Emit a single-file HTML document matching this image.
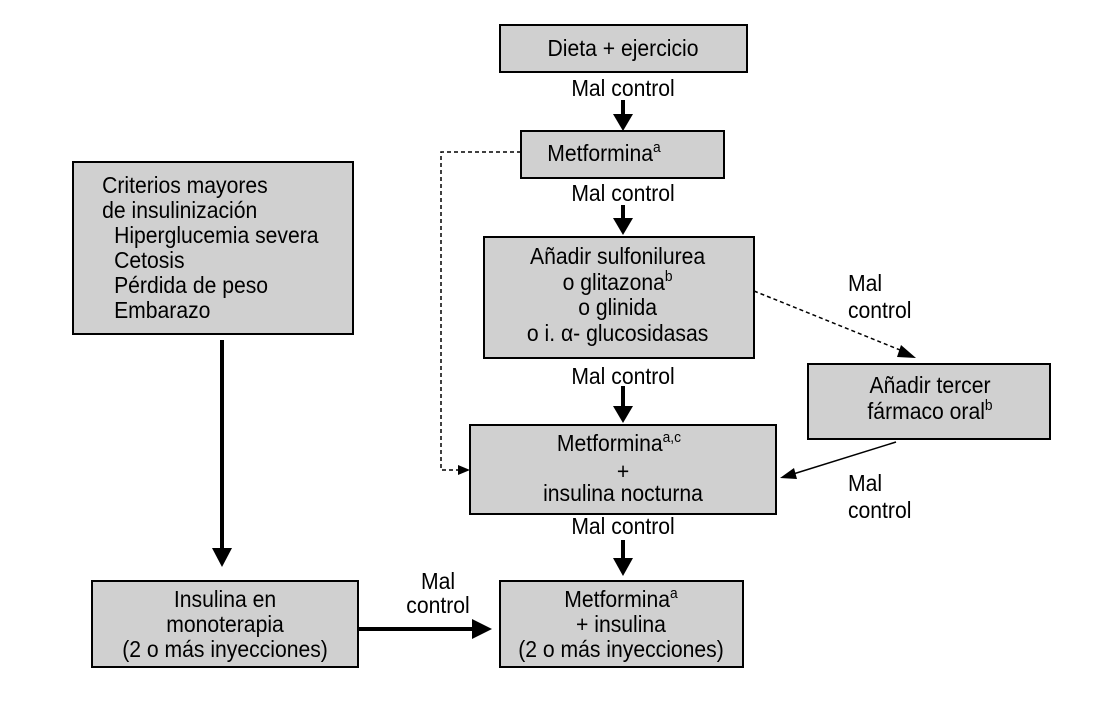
<!DOCTYPE html>
<html><head><meta charset="utf-8"><style>
body{margin:0;background:#fff;}
svg text{font-family:"Liberation Sans Narrow","Liberation Sans",sans-serif;font-size:23px;fill:#000;}
</style></head><body>
<svg width="1102" height="713" viewBox="0 0 1102 713" xmlns="http://www.w3.org/2000/svg">
<g fill="#d0d0d0" stroke="#000" stroke-width="2">
<rect x="500" y="25" width="247" height="47"/>
<rect x="521" y="131" width="203" height="47"/>
<rect x="484" y="237" width="270" height="121"/>
<rect x="470" y="425" width="306" height="89"/>
<rect x="808" y="364" width="242" height="75"/>
<rect x="73" y="162" width="280" height="172"/>
<rect x="92" y="581" width="266" height="86"/>
<rect x="500" y="581" width="243" height="86"/>
</g>
<g stroke="#000" stroke-width="4">
<line x1="623" y1="100" x2="623" y2="116"/>
<line x1="623" y1="205" x2="623" y2="220"/>
<line x1="623" y1="386" x2="623" y2="408"/>
<line x1="623" y1="540" x2="623" y2="560"/>
<line x1="222" y1="340" x2="222" y2="550"/>
<line x1="358" y1="629" x2="475" y2="629"/>
</g>
<g fill="#000">
<path d="M613,114 L633,114 L623,131 z"/>
<path d="M613,218 L633,218 L623,235 z"/>
<path d="M613,406 L633,406 L623,423 z"/>
<path d="M613,558 L633,558 L623,576 z"/>
<path d="M212,548 L232,548 L222,567 z"/>
<path d="M472,619 L472,639 L492,629 z"/>
</g>
<g fill="none" stroke="#000" stroke-width="1.5" stroke-dasharray="4,3">
<polyline points="521,152 441,152 441,470 460,470"/>
<line x1="754" y1="291" x2="905" y2="352"/>
</g>
<path d="M458,465 L470,470 L458,475 z" fill="#000"/>
<path d="M901,345 L916,358 L897,357 z" fill="#000"/>
<line x1="896" y1="442" x2="790" y2="475" stroke="#000" stroke-width="1.5"/>
<path d="M780,478 L794,468 L797,479 z" fill="#000"/>
<g transform="scale(0.92,1)">
<g text-anchor="middle">
<text x="677.2" y="56">Dieta + ejercicio</text>
<text x="677.2" y="96">Mal control</text>
<text x="656.5" y="161">Metformina<tspan font-size="15" dy="-9">a</tspan></text>
<text x="677.2" y="201">Mal control</text>
<text x="671.3" y="264">Añadir sulfonilurea</text>
<text x="671.3" y="290">o glitazona<tspan font-size="15" dy="-9">b</tspan></text>
<text x="671.3" y="315">o glinida</text>
<text x="671.3" y="341">o i. α- glucosidasas</text>
<text x="677.2" y="384">Mal control</text>
<text x="672.8" y="451">Metformina<tspan font-size="15" dy="-9">a,c</tspan></text>
<text x="677.2" y="479">+</text>
<text x="677.2" y="501">insulina nocturna</text>
<text x="677.2" y="534">Mal control</text>
<text x="1010.9" y="393">Añadir tercer</text>
<text x="1010.9" y="419">fármaco oral<tspan font-size="15" dy="-9">b</tspan></text>
<text x="244.6" y="607">Insulina en</text>
<text x="244.6" y="632">monoterapia</text>
<text x="244.6" y="657">(2 o más inyecciones)</text>
<text x="675" y="607">Metformina<tspan font-size="15" dy="-9">a</tspan></text>
<text x="675" y="632">+ insulina</text>
<text x="675" y="657">(2 o más inyecciones)</text>
<text x="476.1" y="589">Mal</text>
<text x="476.1" y="613">control</text>
</g>
<text x="921.7" y="291">Mal</text>
<text x="921.7" y="318">control</text>
<text x="921.7" y="491">Mal</text>
<text x="921.7" y="518">control</text>
<text x="111" y="193">Criterios mayores</text>
<text x="111" y="218">de insulinización</text>
<text x="124" y="243">Hiperglucemia severa</text>
<text x="124" y="268">Cetosis</text>
<text x="124" y="293">Pérdida de peso</text>
<text x="124" y="318">Embarazo</text>
</g>
</svg>
</body></html>
